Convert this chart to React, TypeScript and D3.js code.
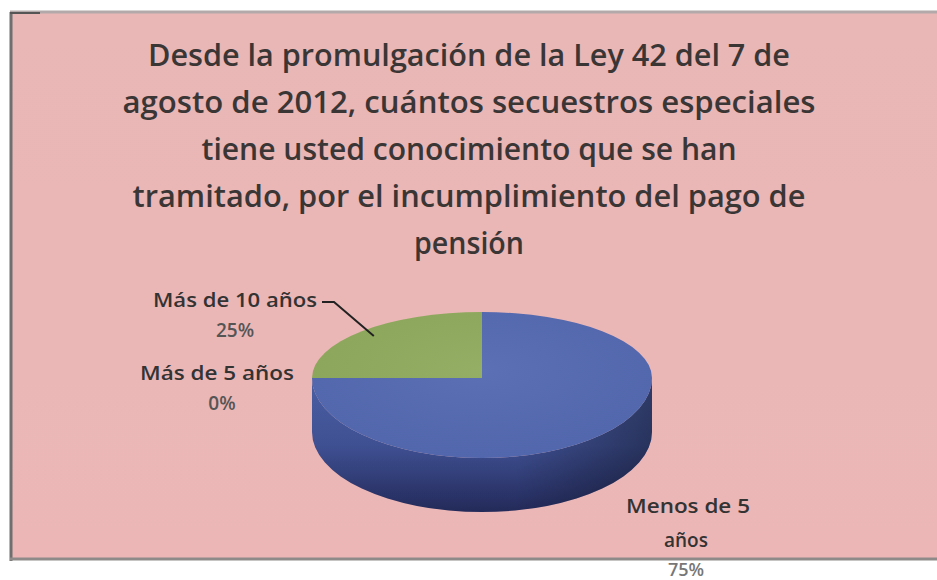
import React from "react";
import * as d3 from "d3";

const titleLines = [
  "Desde la promulgación de la Ley 42 del 7 de",
  "agosto de 2012, cuántos secuestros especiales",
  "tiene usted conocimiento que se han",
  "tramitado, por el incumplimiento del pago de",
  "pensión",
];
const categories = ["Menos de 5 años", "Más de 5 años", "Más de 10 años"];
const values = [75, 0, 25];
const percentLabels = ["75%", "0%", "25%"];

const W = 937;
const H = 580;

export default function App() {
  const cx = 482, cy = 378, rx = 170, ryTop = 66, ryBot = 80, depth = 54;
  const pie = d3.pie<number>().sort(null).startAngle(0).endAngle(2 * Math.PI);
  const arcs = pie(values);
  const ryAt = (a: number) => {
    const c = Math.cos(a);
    return c >= 0 ? ryTop : ryBot;
  };
  const pt = (a: number, k = 1, dy = 0): [number, number] => [
    cx + rx * k * Math.sin(a),
    cy - ryAt(a) * k * Math.cos(a) + dy,
  ];
  // arc segment along rim from a0 to a1 (clockwise), split at quarter boundaries
  const rim = (a0: number, a1: number, dy = 0, reverse = false) => {
    const cuts = [Math.PI / 2, (3 * Math.PI) / 2];
    const pts = [a0, ...cuts.filter((c) => c > a0 + 1e-6 && c < a1 - 1e-6), a1];
    let d = "";
    if (!reverse) {
      for (let i = 1; i < pts.length; i++) {
        const m = (pts[i - 1] + pts[i]) / 2;
        const p = pt(pts[i], 1, dy);
        d += `A${rx},${ryAt(m)} 0 0 1 ${p[0]},${p[1]}`;
      }
    } else {
      for (let i = pts.length - 1; i > 0; i--) {
        const m = (pts[i - 1] + pts[i]) / 2;
        const p = pt(pts[i - 1], 1, dy);
        d += `A${rx},${ryAt(m)} 0 0 0 ${p[0]},${p[1]}`;
      }
    }
    return d;
  };
  const slicePath = (a0: number, a1: number) => {
    if (a1 - a0 <= 1e-6) return "";
    const p0 = pt(a0);
    return `M${cx},${cy}L${p0[0]},${p0[1]}${rim(a0, a1)}Z`;
  };
  const sideStart = Math.PI / 2, sideEnd = (3 * Math.PI) / 2;
  const s0 = pt(sideStart), s1 = pt(sideEnd);
  const sidePath = `M${s0[0]},${s0[1]}${rim(sideStart, sideEnd)}L${s1[0]},${s1[1] + depth}${rim(sideStart, sideEnd, depth, true)}Z`;
  const topOutline = `M${pt(0)[0]},${pt(0)[1]}${rim(0, Math.PI * 2 - 1e-4)}Z`;
  const colors = ["#5369b1", "#c0504d", "#8fab5d"];

  const titleWidths = [642, 693, 535, 673, 110];
  const titleX = 469;
  const titleBase = 66;
  const titleStep = 47;

  const green = arcs[2];
  const gm = (green.startAngle + green.endAngle) / 2;
  const lp = pt(gm, 0.9);

  const font = "'Open Sans', 'DejaVu Sans', sans-serif";

  return (
    <svg width={W} height={H} style={{ position: "absolute", left: 0, top: 0, background: "#fff" }}>
      <defs>
        <linearGradient id="bg" x1="0" y1="0" x2="0" y2="1">
          <stop offset="0" stopColor="#e9b7b6" />
          <stop offset="1" stopColor="#ecb6b6" />
        </linearGradient>
        <linearGradient id="side" x1="0" y1="0" x2="0" y2="1">
          <stop offset="0" stopColor="#4f64ab" />
          <stop offset="0.5" stopColor="#42549a" />
          <stop offset="1" stopColor="#252c5e" />
        </linearGradient>
        <linearGradient id="sideH" x1="0" y1="0" x2="1" y2="0">
          <stop offset="0" stopColor="#000" stopOpacity="0.05" />
          <stop offset="0.6" stopColor="#000" stopOpacity="0.05" />
          <stop offset="1" stopColor="#000" stopOpacity="0.4" />
        </linearGradient>
        <radialGradient id="topg" cx="0.5" cy="0.4" r="0.7">
          <stop offset="0" stopColor="#fff" stopOpacity="0.05" />
          <stop offset="1" stopColor="#000" stopOpacity="0.03" />
        </radialGradient>
      </defs>
      <rect x={11} y={12} width={W - 11} height={546} fill="url(#bg)" />
      <line x1={10} x2={W} y1={12} y2={12} stroke="#b4a9aa" strokeWidth={3} />
      <line x1={11} x2={11} y1={12} y2={561} stroke="#6f6f6f" strokeWidth={3} />
      <line x1={10} x2={W} y1={559} y2={559} stroke="#8f8a8a" strokeWidth={3} />
      <line x1={10} x2={40} y1={13} y2={13} stroke="#555" strokeWidth={2} />

      {titleLines.map((t, i) => (
        <text
          key={i}
          x={titleX}
          y={titleBase + i * titleStep}
          textAnchor="middle"
          fontFamily={font}
          fontSize={31}
          fontWeight={600}
          fill="#3b3636"
          textLength={titleWidths[i]}
          lengthAdjust="spacingAndGlyphs"
        >
          {t}
        </text>
      ))}

      <path d={sidePath} fill="url(#side)" />
      <path d={sidePath} fill="url(#sideH)" />
      {arcs.map((a, i) => (
        <path key={i} d={slicePath(a.startAngle, a.endAngle)} fill={colors[i]} />
      ))}
      <path d={topOutline} fill="url(#topg)" />

      <polyline
        points={`322,302 334,302 ${lp[0]},${lp[1]}`}
        fill="none"
        stroke="#222"
        strokeWidth={2}
      />

      <g fontFamily={font} fontSize={19} fontWeight={600} fill="#333">
        <text x={235} y={307} textAnchor="middle" textLength={164} lengthAdjust="spacingAndGlyphs">{categories[2]}</text>
        <text x={235} y={337} textAnchor="middle" fill="#555">{percentLabels[2]}</text>
        <text x={217} y={380} textAnchor="middle" textLength={154} lengthAdjust="spacingAndGlyphs">{categories[1]}</text>
        <text x={222} y={410} textAnchor="middle" fill="#555">{percentLabels[1]}</text>
        <text x={688} y={513} textAnchor="middle" textLength={124} lengthAdjust="spacingAndGlyphs">Menos de 5</text>
        <text x={686} y={547} textAnchor="middle">años</text>
        <text x={686} y={576} textAnchor="middle" fill="#777" fontSize={18}>{percentLabels[0]}</text>
      </g>
    </svg>
  );
}
